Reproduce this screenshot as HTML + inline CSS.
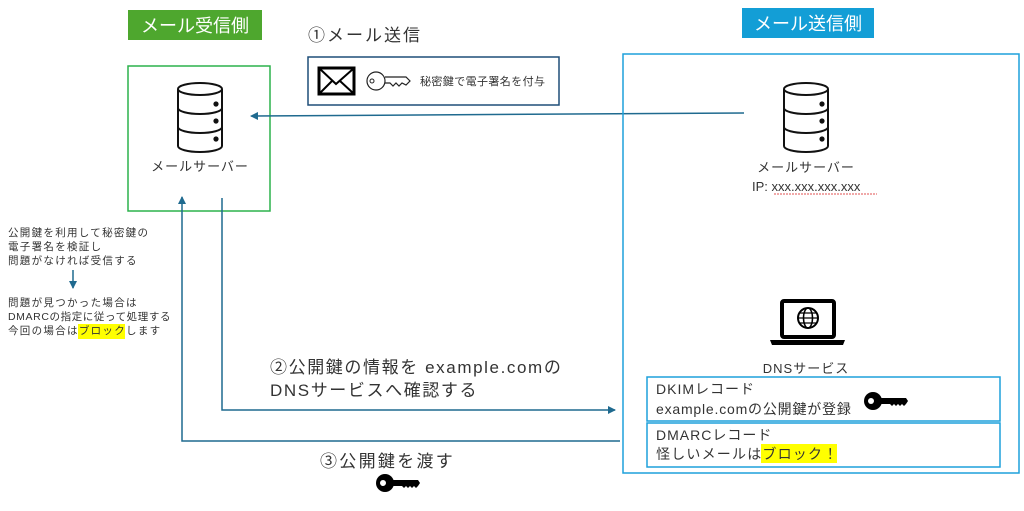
<!DOCTYPE html>
<html><head><meta charset="utf-8"><style>
body{margin:0;width:1024px;height:506px;background:#fff;overflow:hidden}
svg text{font-family:"Liberation Sans","Noto Sans CJK JP",sans-serif;fill:#333}
</style></head><body>
<svg width="1024" height="506" viewBox="0 0 1024 506" xmlns="http://www.w3.org/2000/svg">
<defs>
<marker id="ar" markerWidth="8" markerHeight="8" refX="7" refY="4" orient="auto" markerUnits="userSpaceOnUse"><path d="M0,0 L8,4 L0,8 z" fill="#1f6a8f"/></marker>
<g id="db" fill="none" stroke="#111" stroke-width="2">
<ellipse cx="0" cy="0" rx="22" ry="6"/>
<path d="M-22,0 V57 A22,6 0 0 0 22,57 V0"/>
<path d="M-22,19 A22,6 0 0 0 22,19 M-22,38 A22,6 0 0 0 22,38"/>
<circle cx="16" cy="15" r="1.6" fill="#111"/><circle cx="16" cy="32" r="1.6" fill="#111"/><circle cx="16" cy="50" r="1.6" fill="#111"/>
</g>
<g id="bkey" fill="#000">
<ellipse cx="9" cy="9" rx="9" ry="9"/><circle cx="7" cy="9" r="3" fill="#fff"/>
<path d="M16,6 H42 L44,9 L42,12 L40,14 L38,12 L36,14 L34,12 L32,14 L30,12 L28,14 L26,12 H16 z"/>
</g>
</defs>
<!-- receiving side -->
<rect x="128" y="10" width="134" height="30" fill="#4ea72e"/>
<text x="195" y="32" font-size="18" text-anchor="middle" style="fill:#fff">メール受信側</text>
<rect x="128" y="66" width="142" height="145" fill="none" stroke="#2cb24c" stroke-width="1.5"/>
<use href="#db" x="200" y="89"/>
<text x="200" y="171" font-size="13" text-anchor="middle" letter-spacing="1">メールサーバー</text>
<!-- step1 -->
<text x="308" y="41" font-size="17" letter-spacing="2">①メール送信</text>
<rect x="308" y="57" width="251" height="48" fill="#fff" stroke="#1f4e79" stroke-width="1.5"/>
<rect x="319" y="68" width="35" height="26" fill="#fff" stroke="#000" stroke-width="3"/>
<path d="M320,69 L336,84 L353,69 M320,93 L332,81 M353,93 L340,81" fill="none" stroke="#000" stroke-width="2"/>
<circle cx="376" cy="81" r="9" fill="none" stroke="#222" stroke-width="1.2"/><circle cx="372" cy="81" r="2" fill="none" stroke="#222"/>
<path d="M385,77 H406 L410,81 L406,85 L402,83 L399,86 L396,83 L393,86 L390,83 H385" fill="none" stroke="#222" stroke-width="1.2"/>
<text x="420" y="85" font-size="11" letter-spacing="0.4">秘密鍵で電子署名を付与</text>
<!-- arrow 1 -->
<line x1="744" y1="113" x2="251" y2="116" stroke="#1f6a8f" stroke-width="1.5" marker-end="url(#ar)"/>
<!-- arrows 2/3 -->
<polyline points="222,198 222,410 615,410" fill="none" stroke="#1f6a8f" stroke-width="1.5" marker-end="url(#ar)"/>
<polyline points="620,441 182,441 182,197" fill="none" stroke="#1f6a8f" stroke-width="1.5" marker-end="url(#ar)"/>
<text x="270" y="373" font-size="17" letter-spacing="1.6">②公開鍵の情報を example.comの</text>
<text x="270" y="396" font-size="17" letter-spacing="1.6">DNSサービスへ確認する</text>
<text x="320" y="467" font-size="17" letter-spacing="2.3">③公開鍵を渡す</text>
<use href="#bkey" x="376" y="474"/>
<!-- left notes -->
<g font-size="10.5" letter-spacing="1.3">
<text x="8" y="236">公開鍵を利用して秘密鍵の</text>
<text x="8" y="250">電子署名を検証し</text>
<text x="8" y="264">問題がなければ受信する</text>
<text x="8" y="306">問題が見つかった場合は</text>
<text x="8" y="320" letter-spacing="0.6">DMARCの指定に従って処理する</text>
<rect x="78" y="324" width="47" height="15" fill="#ffff00"/>
<text x="8" y="334">今回の場合は<tspan>ブロック</tspan>します</text>
</g>
<line x1="73" y1="270" x2="73" y2="288" stroke="#1f6a8f" stroke-width="1.5" marker-end="url(#ar)"/>
<!-- sending side -->
<rect x="742" y="8" width="132" height="30" fill="#139ed6"/>
<text x="808" y="30" font-size="18" text-anchor="middle" style="fill:#fff">メール送信側</text>
<rect x="623" y="54" width="396" height="419" fill="none" stroke="#1ea1db" stroke-width="1.5"/>
<use href="#db" x="806" y="89"/>
<text x="806" y="172" font-size="13" text-anchor="middle" letter-spacing="1">メールサーバー</text>
<text x="752" y="191" font-size="13">IP: xxx.xxx.xxx.xxx</text>
<path d="M774,194 H877" stroke="#e05050" stroke-width="1" stroke-dasharray="2,1"/>
<!-- laptop -->
<rect x="782" y="301" width="52" height="36" rx="2" fill="none" stroke="#000" stroke-width="4"/>
<path d="M770,340 H845 L843,345 H772 z" fill="#000"/>
<circle cx="808" cy="318" r="10" fill="none" stroke="#000" stroke-width="2"/>
<ellipse cx="808" cy="318" rx="4.5" ry="10" fill="none" stroke="#000" stroke-width="1.5"/>
<path d="M798,318 H818 M800,313 H816 M800,323 H816" stroke="#000" stroke-width="1.2"/>
<text x="806" y="373" font-size="13" text-anchor="middle" letter-spacing="1">DNSサービス</text>
<rect x="647" y="377" width="353" height="44" fill="#fff" stroke="#1ea1db" stroke-width="1.5"/>
<rect x="647" y="423" width="353" height="44" fill="#fff" stroke="#1ea1db" stroke-width="1.5"/>
<text x="656" y="394" font-size="14" letter-spacing="1">DKIMレコード</text>
<text x="656" y="414" font-size="14" letter-spacing="0.8">example.comの公開鍵が登録</text>
<use href="#bkey" x="864" y="392"/>
<text x="656" y="440" font-size="14" letter-spacing="1">DMARCレコード</text>
<rect x="761" y="444" width="76" height="19" fill="#ffff00"/>
<text x="656" y="459" font-size="14" letter-spacing="1.2">怪しいメールは<tspan>ブロック！</tspan></text>
</svg>
</body></html>
